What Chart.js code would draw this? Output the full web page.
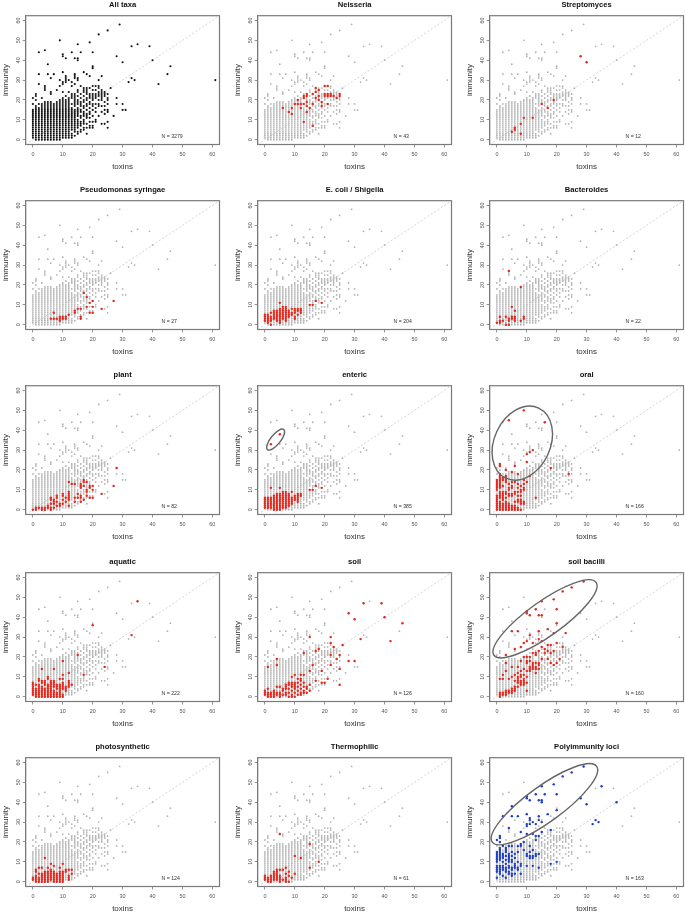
<!DOCTYPE html>
<html>
<head>
<meta charset="utf-8">
<style>
  html, body { margin: 0; padding: 0; background: #fff; overflow: hidden; }
  canvas { position: absolute; }
</style>
<script src="https://cdn.jsdelivr.net/npm/chart.js@4"></script>
</head>
<body>
<script>
// every row: toxins count first, then the immunity counts seen at that toxins count
const allTaxa = [
  [0, 1,2,3,4,5,6,7,8,9,10,11,12,13,14,15,18,21],
  [1, 0,1,2,3,4,5,6,7,8,9,10,11,12,13,14,15,16,17,20,22,23],
  [2, 0,1,2,3,4,5,6,7,8,9,10,11,12,13,14,15,16,18,28,33,44],
  [3, 0,1,2,3,4,5,6,7,8,9,10,11,12,13,14,15,16,17,18,21],
  [4, 0,1,2,3,4,5,6,7,8,9,10,11,12,13,14,15,16,17,18,19,25,26,27,45],
  [5, 0,1,2,3,4,5,6,7,8,9,10,11,12,13,14,15,16,17,18,19,33,38],
  [6, 0,1,2,3,4,5,6,7,8,9,10,11,12,13,14,15,16,17,18,19,23,24,31],
  [7, 0,1,2,3,4,5,6,7,8,9,10,11,12,13,14,15,16,17,18,33],
  [8, 0,1,2,3,4,5,6,7,8,9,10,11,12,13,14,15,16,17,18,19,25],
  [9, 0,1,2,3,4,5,6,7,8,9,10,11,12,13,14,15,16,17,18,19,20,27,30,50],
  [10, 1,2,3,4,5,6,7,8,9,10,11,12,13,14,15,16,17,18,19,20,21,24,28,29,34,42,43],
  [11, 1,2,3,4,5,6,7,8,9,10,11,12,13,14,15,16,17,18,19,20,22,29,30,31,32,41],
  [12, 1,2,3,4,5,6,7,8,9,10,11,12,13,14,15,16,17,18,19,20,21,24,30],
  [13, 1,2,3,5,6,7,8,9,10,11,12,13,14,15,16,18,21,22,23,27,29,44],
  [14, 2,4,5,6,7,8,9,10,11,12,13,14,15,17,18,19,20,21,22,23,28,31,32,33,41],
  [15, 3,4,6,7,8,9,10,12,13,14,15,16,18,19,20,22,24,25,30,31,40,41,48],
  [16, 4,5,7,8,9,11,12,14,15,17,18,19,21,23,27,44],
  [17, 5,6,8,9,10,12,13,14,16,17,19,20,22,24,25,26,34],
  [18, 3,6,8,11,12,13,15,17,18,20,21,23,24,25,26,33],
  [19, 6,7,9,11,13,14,16,18,19,21,22,23,26,32,49],
  [20, 6,7,9,12,15,17,18,20,21,22,23,25,27,36,37,44],
  [21, 9,10,14,16,18,21,22,23,25,27],
  [22, 12,17,18,20,22,23,24,26,27,30,53],
  [23, 8,14,17,20,21,22,23,24,25,32],
  [24, 8,13,15,17,19,22,23,24],
  [25, 6,9,14,15,18,20,21,23,55],
  [26, 26], [27, 12], [28, 18,21,42], [29, 58], [30, 15,18,39], [31, 15],
  [32, 29], [33, 31,47], [34, 30], [35, 48], [39, 47], [40, 40],
  [42, 28], [45, 33], [46, 37], [61, 30]
];
const neisseria = [
  [6, 16], [8, 14], [9, 13,16], [10, 18], [11, 18,20], [12, 16,18],
  [13, 9,18,21,22], [14, 14,17,19,22,23], [15, 16], [16, 7,18,23],
  [17, 21,24,26], [18, 20,22,25], [19, 17,19], [20, 22,23,27], [21, 18,22,23,27],
  [22, 22,23], [23, 22], [24, 21], [25, 22,23]
];
const streptomyces = [
  [5, 4], [6, 5,6], [8, 3,8], [9, 11], [12, 11], [15, 18], [17, 16], [19, 20], [28, 42], [30, 39]
];
const pseudomonas = [
  [6, 3], [7, 3,6], [8, 3], [9, 2,3,4], [10, 3,4], [11, 3,4], [12, 5], [14, 6,7],
  [15, 8], [16, 3,4,8], [17, 16], [18, 9,14], [19, 6,11], [20, 6,9,12], [23, 8], [27, 12]
];
const ecoli = [
  [0, 2,3,4,5], [1, 1,2,3,4,5], [2, 0,2,3,4,6], [3, 3,4,5,6,7], [4, 2,3,4,5,6,7],
  [5, 1,2,3,4,5,6,7,8,11], [6, 3,4,5,6,7,8,9], [7, 2,3,4,5,6,7,8,9], [8, 4,5,6,7],
  [9, 5,6,8], [10, 3,4,6,7,8], [11, 5,7,8], [12, 6,7,8], [15, 10], [16, 10],
  [17, 12], [19, 11]
];
const bacteroides = [
  [0, 1], [1, 1,2,4], [2, 2], [3, 0,4], [4, 0,2,3,27], [5, 3,4,9],
  [6, 2,3,4,7], [8, 2,19], [9, 3,4]
];
const plant = [
  [0, 0], [1, 0,1], [2, 1], [3, 0,1], [4, 0,1], [5, 1,2], [6, 0,1,3,5,6], [7, 1,3,4,5],
  [8, 2,4,6,7], [9, 2,3], [10, 3,5,7,8], [11, 4,6], [12, 2,5,6,7,8,9,14], [13, 13],
  [14, 4,6,13], [15, 6,8], [16, 4,6,7,11,12,13], [17, 5,12,14,15], [18, 7,9,10,14],
  [19, 6,11,12], [20, 6,10,12], [23, 8], [27, 12], [28, 21]
];
const enteric = [
  [0, 1,2,3,4,5,6], [1, 1,2,3,4,5,6], [2, 1,2,3,4,5,6,11,33], [3, 0,1,2,3,4,5,6,7],
  [4, 0,1,2,3,4,5,6,7,8], [5, 0,1,2,3,4,5,6,7,8,11,38], [6, 1,2,3,4,5,6,7,8,9],
  [7, 1,2,3,4,5,6,7,8,9], [8, 2,3,4,5,6,7,8], [9, 3,4,5,6,9], [10, 5,6,7],
  [11, 4,5,6,7,8], [12, 7,8], [15, 10], [16, 10], [17, 12], [19, 11]
];
const oral = [
  [0, 0,1,2,3,4,5,6,7,10,11,12,13,14,15], [1, 0,1,2,3,4,6,7,8,9,11,12,13,14,15,16,17,18,22,23],
  [2, 0,1,2,3,5,6,7,8,9,12,15,16], [3, 0,1,2,3,4,6,8,9,14,15,16,17,20],
  [4, 0,1,2,3,7,8,10,11,13,45], [5, 0,1,2,7,8,11,12,14,19], [6, 0,1,2,4,8,9,14,22],
  [7, 0,1,4,5,7,9,11,13,18], [8, 0,3,4,5,7,9,10,12], [9, 3,4,10,11,13,15,50],
  [10, 14,24,28], [11, 17,29], [12, 30], [13, 6], [16, 44], [18, 21], [24, 18]
];
const aquatic = [
  [0, 1,2,3,4,5,6,7], [1, 0,1,2,3,4,6], [2, 0,1,2,3,4,5,6,8,9], [3, 0,1,2,3,4,5,7,8,14],
  [4, 0,1,2,3,4,6,7,8], [5, 0,1,2,3,4,5,6,9,10], [6, 0,1,2,3,4,5,6,7,8],
  [7, 0,1,2,3,5,6,7,8,14], [8, 0,1,2,4,5,6], [9, 0,1,2,3,4,5,6,9], [10, 0,1,4,5,6,7,9,11,18],
  [11, 3,4,5], [12, 5,6,7,8,12], [13, 6], [15, 21], [17, 11], [20, 36], [24, 15],
  [33, 31], [35, 48]
];
const soil = [
  [0, 1,2,3], [1, 0,1,2,4,15], [2, 0,1,2], [3, 0,1,2,3], [4, 1,2,5,16,19], [5, 0,1,2,5],
  [6, 1,3,4], [7, 1,2,4,5,6], [8, 0,2,4,6,7], [9, 0,1,3,5,6,7,10], [10, 0,2,4,5,6,7,11],
  [11, 1,3,5,7,9], [12, 1,2,4,6,8,9,11], [13, 2,3,5,7,11,22], [14, 2,4,5], [15, 3,6,13,30],
  [16, 16], [17, 8,23], [18, 24], [19, 7,13], [20, 7], [21, 9], [22, 16,21,27,30], [23, 25],
  [24, 19], [25, 6,14,21], [26, 26], [28, 18,42], [30, 18,39], [32, 29], [33, 47],
  [39, 47], [40, 40], [42, 28], [46, 37]
];
const soilBacilli = [
  [1, 0,1,2,9], [2, 1,2,9,11], [3, 1,2,3,13,17,21], [4, 2,3,9], [5, 2,3,4,10,15,33],
  [6, 3,4,5,8,11,24], [7, 5,7,8,9,10,12,15,33], [8, 6,7,8,10,11,13,18,25], [9, 6,7,8,9,11,14,20,27],
  [10, 3,7,10,13,17,18,20,28,42,43], [11, 13,14,15,18,20,31,41], [12, 14,15,16,17,22,27],
  [13, 12,14,15,17,21,22,44], [14, 14,16,17,23,29,33,41], [15, 19,25,28,41,48], [16, 22,24],
  [17, 19,23,26,34], [18, 17,22,26], [19, 16,23,32,49], [20, 17,27,37,44], [21, 19],
  [22, 25,53], [23, 32], [25, 55], [29, 58]
];
const photosynthetic = [
  [0, 1,2], [1, 0,1,2,3,5,6], [2, 0,1,2,4,7], [3, 0,1,2,3,4,7], [4, 0,1,2,3,4,5,12],
  [5, 0,1,2,3,4,5,7], [6, 1,2,3,4,5,6,9], [7, 0,1,2,3,4,5,8], [8, 0,1,2,3,4], [9, 0,1,2,3,4,5,7],
  [10, 0,1,2,3,4,5,9], [11, 5,6], [12, 1,2,3,6], [13, 4,6]
];
const thermophilic = [
  [0, 1,2,3], [1, 0,1,2], [2, 0,1,2,3], [3, 1,2,3,4,5], [4, 1,2,3,4,5,6], [5, 0,1,2,3,6,24],
  [6, 1,6], [7, 0,1,2,4,7], [8, 0,3,5], [9, 2], [10, 4,13], [12, 12], [15, 7,19], [18, 10]
];
const polyimmunity = [
  [0, 2,5,6,7,8,10,11,12,13,14,15,21], [1, 4,5,6,7,8,11,12,13,14,15,16,17,20,22,23],
  [2, 3,6,7,8,10,12,13,14,18,33], [3, 2,5,6,7,9,11,13,15,16,17], [4, 4,5,7,8,10,11,12,13,14,18,27],
  [5, 3,4,6,7,10,11,13,15,18,33,38], [6, 4,7,8,9,12,14], [7, 6,7,10,15,18,33],
  [8, 4,8,9,18,19,25], [9, 16,20], [10, 8,13,14,24,28,29,34,42,43], [11, 12,13,15,18,29,31,32,41],
  [12, 8,12,13,16,24,30], [13, 13,14,21,23,29,44], [14, 7,14,23,31,33,41], [15, 25,30,40,41,48],
  [16, 44], [17, 34], [18, 9,26], [19, 49], [20, 10,36,44], [22, 53], [25, 55], [28, 42], [29, 58],
  [30, 39], [32, 29], [33, 31], [34, 30], [35, 48], [40, 40]
];

const tickValues = [0, 10, 20, 30, 40, 50, 60];
const identityLine = [-2.4, 62.4];
const titles = ['All taxa', 'Neisseria', 'Streptomyces', 'Pseudomonas syringae', 'E. coli / Shigella',
  'Bacteroides', 'plant', 'enteric', 'oral', 'aquatic', 'soil', 'soil bacilli',
  'photosynthetic', 'Thermophilic', 'Polyimmunity loci'];
const highlights = [allTaxa, neisseria, streptomyces, pseudomonas, ecoli, bacteroides, plant, enteric,
  oral, aquatic, soil, soilBacilli, photosynthetic, thermophilic, polyimmunity];
const counts = [3279, 43, 12, 27, 204, 22, 82, 385, 166, 222, 126, 160, 124, 61, 163];

// rings drawn on four of the panels: centre in data units, radii in px
const rings = {
  enteric: { x: 3.6, y: 35.3, long: 12.9, short: 4.9, angle: -51 },
  oral: { x: 8.5, y: 33.5, long: 38.7, short: 28, angle: -65 },
  'soil bacilli': { x: 16.1, y: 39.2, long: 62.7, short: 17.3, angle: -35.5 },
  'Polyimmunity loci': { x: 15.9, y: 39, long: 64.5, short: 17.8, angle: -36 }
};

const boxLefts = [25.7, 257.3, 489.3];
const boxTops = [15.7, 200.7, 386, 572.3, 757.7];
const boxW = 193.8, boxH = 128.8;
const canvasW = 228, canvasH = 171.5;
const fontName = '"Liberation Sans", Arial, sans-serif';

function toPoints(rows) {
  const pts = [];
  rows.forEach(r => r.slice(1).forEach(y => pts.push({ x: r[0], y: y })));
  return pts;
}

const framePlugin = {
  id: 'frame',
  beforeDatasetsDraw(chart) {
    const a = chart.chartArea, ctx = chart.ctx;
    ctx.save();
    ctx.strokeStyle = '#7a7a7a';
    ctx.lineWidth = 1.2;
    ctx.strokeRect(a.left, a.top, a.right - a.left, a.bottom - a.top);
    ctx.restore();
  },
  afterDatasetsDraw(chart, args, opts) {
    const ctx = chart.ctx, xs = chart.scales.x, ys = chart.scales.y;
    ctx.save();
    ctx.fillStyle = '#333';
    ctx.font = '5.2px ' + fontName;
    ctx.textBaseline = 'middle';
    ctx.fillText('N = ' + opts.count, xs.getPixelForValue(43), ys.getPixelForValue(1.7));
    if (opts.ring) {
      const r = opts.ring;
      ctx.strokeStyle = '#666';
      ctx.lineWidth = 1.4;
      ctx.beginPath();
      ctx.ellipse(xs.getPixelForValue(r.x), ys.getPixelForValue(r.y), r.long, r.short, r.angle * Math.PI / 180, 0, Math.PI * 2);
      ctx.stroke();
    }
    ctx.restore();
  }
};

function axis(label, pad, titlePad, fit) {
  return {
    type: 'linear', min: identityLine[0], max: identityLine[1],
    grid: { drawOnChartArea: false, color: '#777', tickLength: 3, tickWidth: 0.8 },
    border: { color: '#7a7a7a', width: 1 },
    title: { display: true, text: label, color: '#333', padding: titlePad, font: { family: fontName, size: 8 } },
    afterBuildTicks(s) { s.ticks = tickValues.map(v => ({ value: v })); },
    afterFit: fit,
    ticks: {
      autoSkip: false, color: '#555', padding: pad, font: { family: fontName, size: 5.4 },
      callback: v => String(v)
    }
  };
}

titles.forEach((title, i) => {
  const col = i % 3, row = Math.floor(i / 3);
  const c = document.createElement('canvas');
  c.style.left = (boxLefts[col] - boxLefts[0]) + 'px';
  c.style.top = (boxTops[row] - boxTops[0]) + 'px';
  c.width = canvasW; c.height = Math.ceil(canvasH);
  document.body.appendChild(c);

  const isAll = i === 0;
  const isPoly = title === 'Polyimmunity loci';
  const datasets = [];
  datasets.push({
    data: toPoints(highlights[i]),
    pointRadius: isAll ? 1.05 : 1.2,
    borderWidth: 0,
    backgroundColor: isAll ? '#111' : (isPoly ? '#1f3fc4' : '#e5281e')
  });
  if (!isAll) {
    datasets.push({ data: toPoints(allTaxa), pointRadius: 0.9, borderWidth: 0, backgroundColor: '#b2b2b2' });
  }
  datasets.push({
    data: identityLine.map(v => ({ x: v, y: v })),
    showLine: true, pointRadius: 0, borderColor: '#cfcfcf', borderWidth: 0.9, borderDash: [2, 2]
  });

  const xAxis = axis('toxins', 4, 0, s => { s.height = Math.ceil(canvasH) - 15.7 - boxH; });
  const yAxis = axis('immunity', 1.5, { top: 1, bottom: 0 }, s => { s.width = boxLefts[0]; });
  yAxis.ticks.minRotation = 90;
  yAxis.ticks.maxRotation = 90;
  yAxis.ticks.crossAlign = 'center';

  new Chart(c, {
    type: 'scatter',
    data: { datasets },
    plugins: [framePlugin],
    options: {
      responsive: false, animation: false, devicePixelRatio: 1,
      layout: { padding: { left: 0, top: 0, right: canvasW - boxLefts[0] - boxW, bottom: 0 } },
      scales: { x: xAxis, y: yAxis },
      plugins: {
        legend: { display: false },
        tooltip: { enabled: false },
        title: {
          display: true, text: title, color: '#111', fullSize: false,
          font: { family: fontName, size: 7.6, weight: 'bold' },
          padding: { top: 0.4, bottom: 15.7 - 9.52 }
        },
        frame: { count: counts[i], ring: rings[title] }
      }
    }
  });
});
</script>
</body>
</html>
